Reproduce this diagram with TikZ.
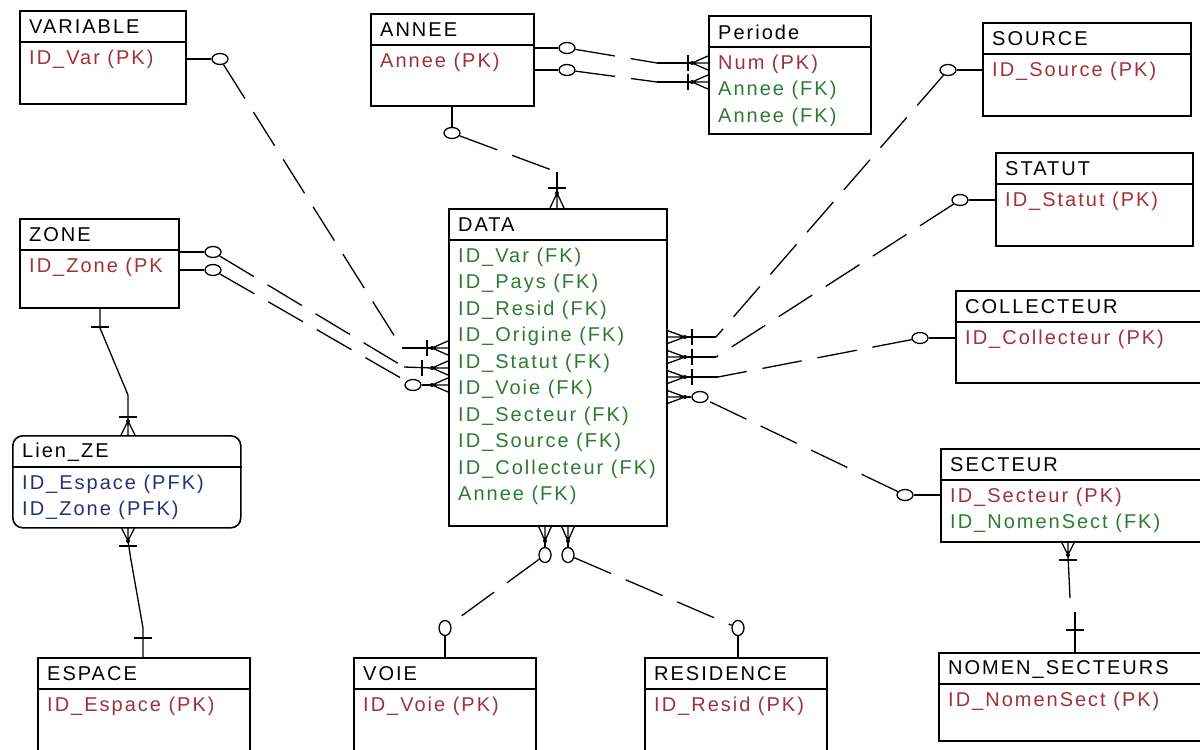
\documentclass[tikz,border=0pt]{standalone}
\usepackage{fontspec}
\setmainfont{Liberation Sans}[LetterSpace=10]
\usetikzlibrary{shapes.geometric}
\definecolor{pkred}{HTML}{A0303C}
\definecolor{fkgreen}{HTML}{2F7A32}
\definecolor{pfkblue}{HTML}{25307A}
\tikzset{
  ent/.style={draw=black, line width=1.6pt, rectangle, inner sep=0pt},
  entline/.style={line width=1.4pt},
  ttl/.style={anchor=west, inner sep=0pt, text=black},
  pk/.style={anchor=west, inner sep=0pt, text=pkred},
  fk/.style={anchor=west, inner sep=0pt, text=fkgreen},
  pfk/.style={anchor=west, inner sep=0pt, text=pfkblue},
  conn/.style={line width=1.3pt},
  dsh/.style={conn, dash pattern=on 40pt off 16pt},
  ring/.style={draw, ellipse, fill=white, line width=1.3pt, minimum width=16pt, minimum height=11pt, inner sep=0pt},
  ringv/.style={ring, minimum width=12pt, minimum height=15pt},
}
% entity box: name, x, y, w, h, title, extra options
\newcommand\entbox[7]{%
  \node[ent, minimum width=#4, minimum height=#5, anchor=north west, #7] (#1) at (#2,#3) {};
  \draw[entline] ([yshift=-32pt]#1.north west) -- ([yshift=-32pt]#1.north east);
  \node[ttl] (#1-t) at ([xshift=10pt,yshift=-17pt]#1.north west) {#6};
}
% attribute row: name, box, row, style, text
\newcommand\attrrow[5]{%
  \node[#4] (#1) at ([xshift=10pt,yshift={-(49+26.5*(#3-1))*1pt}]#2.north west) {#5};
}
% crow's feet: convergence coordinate, length
\newcommand\cfR[2]{\draw[conn] (#1) -- ++(#2,-7) (#1) -- ++(#2,0) (#1) -- ++(#2,7); \fill (#1) circle (2pt);}
\newcommand\cfL[2]{\draw[conn] (#1) -- ++(-#2,-7) (#1) -- ++(-#2,0) (#1) -- ++(-#2,7); \fill (#1) circle (2pt);}
\newcommand\cfDn[2]{\draw[conn] (#1) -- ++(-7,#2) (#1) -- ++(0,#2) (#1) -- ++(7,#2); \fill (#1) circle (2pt);}
\newcommand\cfUp[2]{\draw[conn] (#1) -- ++(-7,-#2) (#1) -- ++(0,-#2) (#1) -- ++(7,-#2); \fill (#1) circle (2pt);}
% bars: coordinate, shift
\newcommand\barV[2]{\draw[conn] ([xshift=#2]#1) ++(0,-8) -- ++(0,16);}
\newcommand\barH[2]{\draw[conn] ([yshift=#2]#1) ++(-9,0) -- ++(18,0);}
\begin{document}
\begin{tikzpicture}[x=1pt,y=-1pt, font=\fontsize{20}{22}\selectfont]
\useasboundingbox (0,0) rectangle (1200,750);

% ---------- entities ----------
\entbox{var}{19}{10}{166}{93}{VARIABLE}{}
\attrrow{var-a1}{var}{1}{pk}{ID\_Var (PK)}

\entbox{annee}{370}{13}{163}{92}{ANNEE}{}
\attrrow{annee-a1}{annee}{1}{pk}{Annee (PK)}

\entbox{per}{708}{15}{162}{118}{Periode}{}
\attrrow{per-a1}{per}{1}{pk}{Num (PK)}
\attrrow{per-a2}{per}{2}{fk}{Annee (FK)}
\attrrow{per-a3}{per}{3}{fk}{Annee (FK)}

\entbox{src}{982}{22}{208}{93}{SOURCE}{}
\attrrow{src-a1}{src}{1}{pk}{ID\_Source (PK)}

\entbox{stat}{995}{152}{197}{93}{STATUT}{}
\attrrow{stat-a1}{stat}{1}{pk}{ID\_Statut (PK)}

\entbox{zone}{19}{218}{159}{89}{ZONE}{}
\attrrow{zone-a1}{zone}{1}{pk}{ID\_Zone (PK}

\entbox{data}{448}{208}{218}{317}{DATA}{}
\attrrow{data-a1}{data}{1}{fk}{ID\_Var (FK)}
\attrrow{data-a2}{data}{2}{fk}{ID\_Pays (FK)}
\attrrow{data-a3}{data}{3}{fk}{ID\_Resid (FK)}
\attrrow{data-a4}{data}{4}{fk}{ID\_Origine (FK)}
\attrrow{data-a5}{data}{5}{fk}{ID\_Statut (FK)}
\attrrow{data-a6}{data}{6}{fk}{ID\_Voie (FK)}
\attrrow{data-a7}{data}{7}{fk}{ID\_Secteur (FK)}
\attrrow{data-a8}{data}{8}{fk}{ID\_Source (FK)}
\attrrow{data-a9}{data}{9}{fk}{ID\_Collecteur (FK)}
\attrrow{data-a10}{data}{10}{fk}{Annee (FK)}

\entbox{coll}{955}{290}{250}{92}{COLLECTEUR}{}
\attrrow{coll-a1}{coll}{1}{pk}{ID\_Collecteur (PK)}

\entbox{lien}{12}{435}{228}{92}{Lien\_ZE}{rounded corners=10pt}
\attrrow{lien-a1}{lien}{1}{pfk}{ID\_Espace (PFK)}
\attrrow{lien-a2}{lien}{2}{pfk}{ID\_Zone (PFK)}

\entbox{sect}{940}{448}{265}{93}{SECTEUR}{}
\attrrow{sect-a1}{sect}{1}{pk}{ID\_Secteur (PK)}
\attrrow{sect-a2}{sect}{2}{fk}{ID\_NomenSect (FK)}

\entbox{esp}{37}{657}{212}{110}{ESPACE}{}
\attrrow{esp-a1}{esp}{1}{pk}{ID\_Espace (PK)}

\entbox{voie}{353}{657}{182}{110}{VOIE}{}
\attrrow{voie-a1}{voie}{1}{pk}{ID\_Voie (PK)}

\entbox{res}{644}{657}{182}{110}{RESIDENCE}{}
\attrrow{res-a1}{res}{1}{pk}{ID\_Resid (PK)}

\entbox{nomen}{938}{652}{262}{88}{NOMEN\_SECTEURS}{}
\attrrow{nomen-a1}{nomen}{1}{pk}{ID\_NomenSect (PK)}

% ---------- rings ----------
\node[ring] (rv) at (220,59) {};
\node[ring] (rz1) at (213,252) {};
\node[ring] (rz2) at (213,270) {};
\node[ring] (rd3) at (413,385) {};
\node[ring] (ra) at (452,133) {};
\node[ring] (rp1) at (567,48) {};
\node[ring] (rp2) at (567,70) {};
\node[ring] (rs) at (948,70) {};
\node[ring] (rst) at (960,200) {};
\node[ring] (rco) at (920,338) {};
\node[ring] (rse) at (905,495) {};
\node[ring] (rd9) at (700,397) {};
\node[ringv] (rb1) at (545,555) {};
\node[ringv] (rb2) at (568,555) {};
\node[ringv] (rvo) at (445,628) {};
\node[ringv] (rre) at (738,628) {};

% ---------- VARIABLE - DATA ----------
\coordinate (v1) at (402,348);
\coordinate (cv1) at (432,348);
\draw[conn] (rv) -- (rv -| var.east);
\draw[dsh] (rv) -- (v1);
\draw[conn] (v1) -- (cv1);
\cfR{cv1}{16}
\barV{cv1}{-5pt}

% ---------- ZONE - DATA ----------
\coordinate (z1e) at (404,367);
\coordinate (cv2) at (432,368);
\draw[conn] (rz1) -- (rz1 -| zone.east);
\draw[conn] (rz2) -- (rz2 -| zone.east);
\draw[dsh] (rz1) -- (z1e);
\draw[conn] (z1e) -- (cv2);
\cfR{cv2}{16}
\barV{cv2}{-10pt}
\coordinate (cv3) at (432,385);
\draw[dsh] (rz2) -- (rd3);
\draw[conn] (rd3) -- (cv3);
\cfR{cv3}{16}

% ---------- ANNEE - DATA ----------
\coordinate (a1) at (557,172);
\coordinate (ca) at (557,193);
\draw[conn] (ra) -- (ra |- annee.south);
\draw[dsh] (ra) -- (a1);
\draw[conn] (a1) -- (ca);
\cfDn{ca}{15}
\barH{ca}{5pt}

% ---------- ANNEE - Periode ----------
\coordinate (p1) at (657,63);
\coordinate (cp1) at (692,63);
\coordinate (p2) at (657,82);
\coordinate (cp2) at (692,82);
\draw[conn] (rp1) -- (rp1 -| annee.east);
\draw[conn] (rp2) -- (rp2 -| annee.east);
\draw[dsh] (rp1) -- (p1);
\draw[conn] (p1) -- (cp1);
\draw[dsh] (rp2) -- (p2);
\draw[conn] (p2) -- (cp2);
\cfR{cp1}{16}
\cfR{cp2}{16}
\barV{cp1}{-4pt}
\barV{cp2}{-4pt}

% ---------- right side of DATA ----------
\coordinate (s1) at (716,337);
\coordinate (cs) at (685,337);
\draw[conn] (rs) -- (rs -| src.west);
\draw[dsh] (rs) -- (s1);
\draw[conn] (s1) -- (cs);
\cfL{cs}{19}
\barV{cs}{7pt}

\coordinate (s2) at (716,357);
\coordinate (cst) at (685,357);
\draw[conn] (rst) -- (rst -| stat.west);
\draw[dsh] (rst) -- (s2);
\draw[conn] (s2) -- (cst);
\cfL{cst}{19}
\barV{cst}{7pt}

\coordinate (s3) at (718,377);
\coordinate (cco) at (685,377);
\draw[conn] (rco) -- (rco -| coll.west);
\draw[dsh] (rco) -- (s3);
\draw[conn] (s3) -- (cco);
\cfL{cco}{19}
\barV{cco}{7pt}

\coordinate (cse) at (685,397);
\draw[conn] (rse) -- (rse -| sect.west);
\draw[dsh] (rse) -- (rd9);
\draw[conn] (rd9) -- (cse);
\cfL{cse}{19}

% ---------- DATA - VOIE / RESIDENCE ----------
\coordinate (cb1) at (545,541);
\coordinate (cb2) at (568,541);
\draw[conn] (rb1) -- (cb1);
\draw[conn] (rb2) -- (cb2);
\cfUp{cb1}{16}
\cfUp{cb2}{16}
\draw[dsh] (rb1) -- (rvo);
\draw[dsh] (rb2) -- (rre);
\draw[conn] (rvo) -- (rvo |- voie.north);
\draw[conn] (rre) -- (rre |- res.north);

% ---------- ZONE - Lien_ZE ----------
\coordinate (zl1) at (100,328);
\coordinate (zl2) at (128,395);
\coordinate (zl3) at (128,421);
\draw[conn] (zone.south -| zl1) -- (zl1) -- (zl2) -- (zl3);
\barH{zl1}{1pt}
\barH{zl3}{4pt}
\cfDn{zl3}{14}

% ---------- Lien_ZE - ESPACE ----------
\coordinate (le1) at (128,541);
\coordinate (le2) at (131,560);
\coordinate (le3) at (143,628);
\cfUp{le1}{14}
\barH{le1}{-5pt}
\draw[conn] (le1) -- (le2) -- (le3) -- (le3 |- esp.north);
\barH{le3}{-10pt}

% ---------- SECTEUR - NOMEN_SECTEURS ----------
\coordinate (sn1) at (1068,555);
\coordinate (sn2) at (1070,598);
\coordinate (sn3) at (1075,612);
\cfUp{sn1}{14}
\barH{sn1}{-5pt}
\draw[conn] (sn1) -- (sn2);
\draw[conn] (sn3) -- (sn3 |- nomen.north);
\barH{sn3}{-18pt}
\end{tikzpicture}
\end{document}
